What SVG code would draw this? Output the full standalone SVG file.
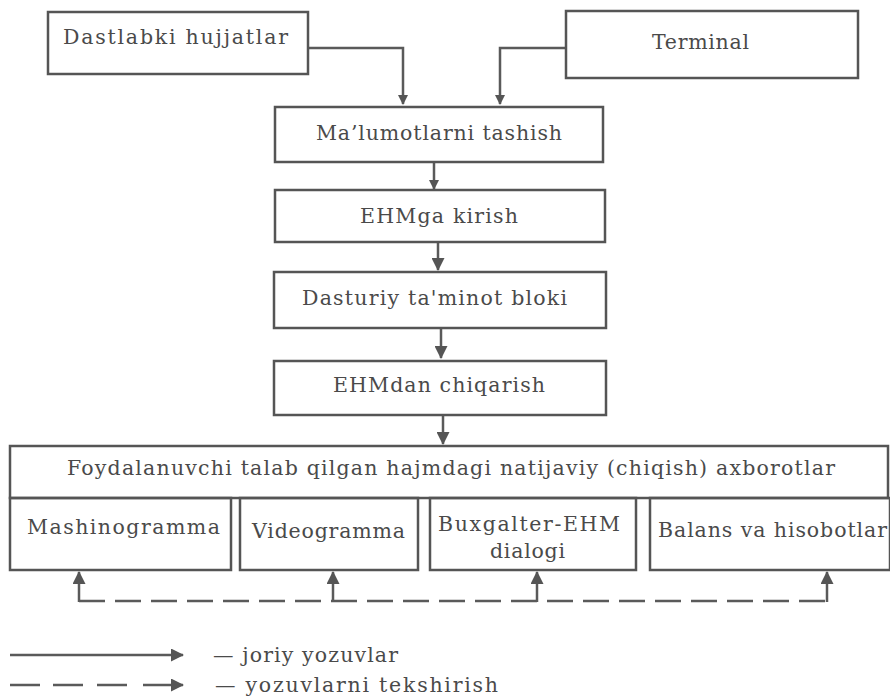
<svg xmlns="http://www.w3.org/2000/svg" width="890" height="699" viewBox="0 0 890 699">
<style>
.box{fill:none;stroke:#555;stroke-width:2.5}
.t{font-family:"DejaVu Serif","Liberation Serif",serif;font-size:20.5px;fill:#4a4a4a}
.ln{fill:none;stroke:#5a5a5a;stroke-width:2.5}
.dash{fill:none;stroke:#5a5a5a;stroke-width:2.5;stroke-dasharray:26 10}
</style>
<defs>
<marker id="ah" markerWidth="10" markerHeight="10" refX="9" refY="5" orient="auto" markerUnits="userSpaceOnUse" viewBox="0 0 10 10">
<path d="M0,0 L10,5 L0,10 Z" fill="#555"/>
</marker>
<marker id="ahb" markerWidth="13" markerHeight="13" refX="12" refY="6.5" orient="auto" markerUnits="userSpaceOnUse" viewBox="0 0 13 13">
<path d="M0,0 L13,6.5 L0,13 Z" fill="#555"/>
</marker>
</defs>
<rect width="890" height="699" fill="#fff"/>
<g id="connectors">
<path class="ln" d="M308,48 H403 V104" marker-end="url(#ah)"/>
<path class="ln" d="M566,48 H500 V104" marker-end="url(#ah)"/>
<path class="ln" d="M434,162 V189" marker-end="url(#ah)"/>
<path class="ln" d="M438,242 V270" marker-end="url(#ahb)"/>
<path class="ln" d="M441,328 V358" marker-end="url(#ahb)"/>
<path class="ln" d="M443,415 V444" marker-end="url(#ahb)"/>
<path class="dash" d="M79,601 H827"/>
<path class="ln" d="M79,602 V572" marker-end="url(#ahb)"/>
<path class="ln" d="M333,602 V572" marker-end="url(#ahb)"/>
<path class="ln" d="M537,602 V572" marker-end="url(#ahb)"/>
<path class="ln" d="M827,602 V572" marker-end="url(#ahb)"/>
</g>
<g id="n1"><rect class="box" x="48" y="12" width="260" height="62"/><text class="t" x="63" y="44" textLength="225" lengthAdjust="spacing">Dastlabki hujjatlar</text></g>
<g id="n2"><rect class="box" x="566" y="11" width="292" height="67"/><text class="t" x="652" y="49" textLength="97" lengthAdjust="spacing">Terminal</text></g>
<g id="n3"><rect class="box" x="275" y="107" width="328" height="55"/><text class="t" x="316" y="140" textLength="246" lengthAdjust="spacing">Ma’lumotlarni tashish</text></g>
<g id="n4"><rect class="box" x="275" y="190" width="330" height="52"/><text class="t" x="360" y="223" textLength="158" lengthAdjust="spacing">EHMga kirish</text></g>
<g id="n5"><rect class="box" x="274" y="272" width="332" height="56"/><text class="t" x="302" y="305" textLength="265" lengthAdjust="spacing">Dasturiy ta'minot bloki</text></g>
<g id="n6"><rect class="box" x="274" y="361" width="332" height="54"/><text class="t" x="333" y="392" textLength="212" lengthAdjust="spacing">EHMdan chiqarish</text></g>
<g id="n7"><rect class="box" x="10" y="446" width="878" height="52"/><text class="t" x="67" y="475" textLength="768" lengthAdjust="spacing">Foydalanuvchi talab qilgan hajmdagi natijaviy (chiqish) axborotlar</text></g>
<g id="n8"><rect class="box" x="10" y="498" width="221" height="72"/><text class="t" x="27" y="534" textLength="193" lengthAdjust="spacing">Mashinogramma</text></g>
<g id="n9"><rect class="box" x="240" y="498" width="178" height="72"/><text class="t" x="252" y="538" textLength="153" lengthAdjust="spacing">Videogramma</text></g>
<g id="n10"><rect class="box" x="430" y="498" width="206" height="72"/><text class="t" x="438" y="531" textLength="182" lengthAdjust="spacing">Buxgalter-EHM</text><text class="t" x="490" y="558" textLength="75" lengthAdjust="spacing">dialogi</text></g>
<g id="n11"><rect class="box" x="650" y="498" width="240" height="72"/><text class="t" x="658" y="537" textLength="229" lengthAdjust="spacing">Balans va hisobotlar</text></g>
<g id="legend">
<path class="ln" d="M10,655 H183" marker-end="url(#ahb)"/>
<path class="ln" d="M10,685 H40 M53,685 H83 M97,685 H127 M143,685 H183" marker-end="url(#ahb)"/>
<text class="t" x="213" y="662" textLength="185" lengthAdjust="spacing">— joriy yozuvlar</text>
<text class="t" x="215" y="692" textLength="283" lengthAdjust="spacing">— yozuvlarni tekshirish</text>
</g>
</svg>
